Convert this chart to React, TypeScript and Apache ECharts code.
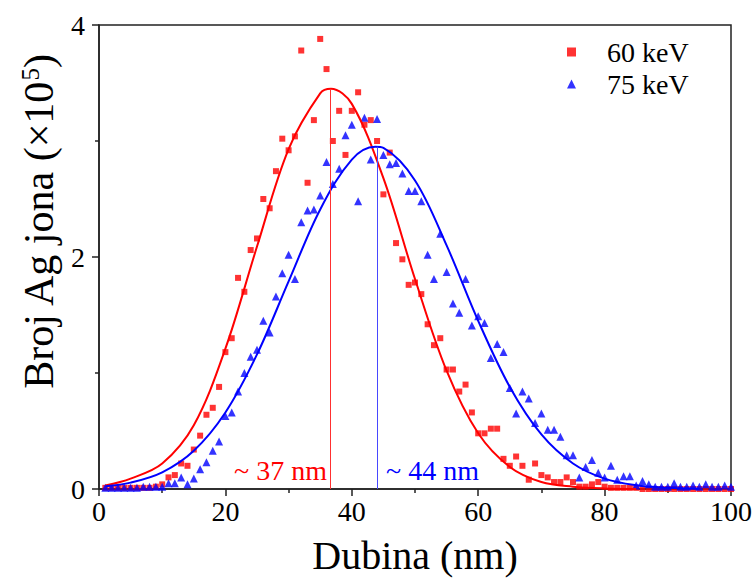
import React, { useEffect, useRef } from "react";
import * as echarts from "echarts";

const FONT = "Liberation Serif";

const depth = [
  1, 2, 3, 4, 5, 6, 7, 8, 9, 10, 11, 12, 13, 14, 15, 16, 17, 18, 19, 20,
  21, 22, 23, 24, 25, 26, 27, 28, 29, 30, 31, 32, 33, 34, 35, 36, 37, 38, 39, 40,
  41, 42, 43, 44, 45, 46, 47, 48, 49, 50, 51, 52, 53, 54, 55, 56, 57, 58, 59, 60,
  61, 62, 63, 64, 65, 66, 67, 68, 69, 70, 71, 72, 73, 74, 75, 76, 77, 78, 79, 80,
  81, 82, 83, 84, 85, 86, 87, 88, 89, 90, 91, 92, 93, 94, 95, 96, 97, 98, 99, 100,
];

const kev60 = [
  0.01, 0.01, 0.01, 0.01, 0.01, 0.01, 0.01, 0.01, 0.02, 0.04,
  0.10, 0.12, 0.22, 0.20, 0.34, 0.46, 0.64, 0.70, 0.88, 1.18,
  1.30, 1.82, 1.70, 2.06, 2.16, 2.50, 2.42, 2.74, 3.02, 2.92,
  3.04, 3.78, 2.64, 3.18, 3.88, 3.62, 3.00, 3.26, 2.88, 3.26,
  3.42, 3.14, 3.18, 3.00, 2.54, 2.90, 2.12, 1.98, 1.76, 1.78,
  1.68, 1.42, 1.24, 1.30, 1.03, 1.03, 0.84, 0.90, 0.66, 0.48,
  0.48, 0.52, 0.52, 0.26, 0.20, 0.28, 0.20, 0.08, 0.22, 0.12,
  0.10, 0.06, 0.06, 0.10, 0.06, 0.02, 0.02, 0.04, 0.06, 0.02,
  0.01, 0.01, 0.01, 0.01, 0.01, 0, 0, 0, 0, 0,
  0, 0, 0, 0, 0, 0, 0, 0, 0, 0,
];

const kev75 = [
  0.01, 0.01, 0.01, 0.01, 0.01, 0.01, 0.02, 0.02, 0.02, 0.02,
  0.05, 0.05, 0.10, 0.04, 0.09, 0.17, 0.23, 0.33, 0.41, 0.63,
  0.66, 0.84, 1.00, 1.14, 1.20, 1.45, 1.35, 1.66, 1.86, 2.02,
  1.81, 2.30, 2.40, 2.41, 2.53, 2.82, 2.63, 2.76, 3.05, 3.14,
  2.48, 3.20, 2.84, 3.19, 2.88, 2.80, 2.81, 2.72, 2.57, 2.57,
  2.48, 2.02, 1.81, 2.20, 1.87, 1.60, 1.52, 1.81, 1.41, 1.49,
  1.43, 1.13, 1.25, 1.18, 0.87, 0.65, 0.84, 0.78, 0.57, 0.65,
  0.51, 0.51, 0.45, 0.29, 0.29, 0.10, 0.19, 0.25, 0.14, 0.10,
  0.20, 0.08, 0.11, 0.11, 0.03, 0.07, 0.04, 0.02, 0.02, 0.02,
  0.05, 0.02, 0.02, 0.03, 0.02, 0.04, 0.02, 0.02, 0.03, 0.02,
];

const fit60X = [1, 5, 10, 15, 20, 25, 30, 35, 36.7, 40, 45, 50, 55, 60, 65, 70, 75, 80, 85];
const fit60Y = [0.03, 0.09, 0.22, 0.55, 1.21, 2.09, 2.93, 3.41, 3.45, 3.32, 2.68, 1.81, 1.02, 0.48, 0.19, 0.06, 0.02, 0.005, 0.001];

const fit75X = [1, 5, 10, 15, 20, 25, 30, 35, 40, 43.7, 45, 50, 55, 60, 65, 70, 75, 80, 85, 90, 95];
const fit75Y = [0.023, 0.055, 0.144, 0.33, 0.66, 1.16, 1.79, 2.41, 2.84, 2.95, 2.94, 2.66, 2.10, 1.45, 0.88, 0.47, 0.22, 0.089, 0.032, 0.01, 0.003];

const peak60 = [36.6, 3.45];
const peak75 = [44.0, 2.95];

const seriesNames = ["60 keV", "75 keV"];
const peakLabels = ["~ 37 nm", "~ 44 nm"];

const RED = "#ff0000";
const BLUE = "#0000ff";
const AXIS = "#222222";

const zip = (xs: number[], ys: number[]) => xs.map((x, i) => [x, ys[i]]);

export default function App() {
  const ref = useRef<HTMLDivElement>(null);

  useEffect(() => {
    document.body.style.margin = "0";
    if (!ref.current) return;
    const chart = echarts.init(ref.current, null, { renderer: "svg" });

    const axisCommon = {
      axisLine: { show: true, onZero: false, lineStyle: { color: AXIS, width: 1.5 } },
      axisTick: { show: true, inside: false, length: 7, lineStyle: { color: AXIS, width: 1.5 } },
      minorTick: { show: true, splitNumber: 2, length: 4, lineStyle: { color: AXIS, width: 1.5 } },
      splitLine: { show: false },
      minorSplitLine: { show: false },
    };

    chart.setOption({
      animation: false,
      backgroundColor: "#ffffff",
      textStyle: { fontFamily: FONT },
      grid: {
        left: 99,
        top: 25,
        width: 632,
        height: 464,
        show: true,
        borderColor: AXIS,
        borderWidth: 1.5,
        backgroundColor: "transparent",
      },
      legend: {
        orient: "vertical",
        left: 562,
        top: 33,
        itemWidth: 9,
        itemHeight: 9,
        itemGap: 4,
        data: seriesNames,
        textStyle: { fontSize: 28, color: "#000", fontFamily: FONT, padding: [0, 0, 0, 26] },
      },
      xAxis: {
        type: "value",
        min: 0,
        max: 100,
        interval: 20,
        ...axisCommon,
        axisLabel: { fontSize: 28, color: "#000", fontFamily: FONT, margin: 8 },
        name: "Dubina (nm)",
        nameLocation: "middle",
        nameGap: 46,
        nameTextStyle: { fontSize: 40, color: "#000", fontFamily: FONT },
      },
      yAxis: {
        type: "value",
        min: 0,
        max: 4,
        interval: 2,
        ...axisCommon,
        axisLabel: { fontSize: 28, color: "#000", fontFamily: FONT, margin: 14 },
        name: "{n|Broj Ag jona (×10}{s|5}{n|)}",
        nameLocation: "middle",
        nameGap: 34,
        nameTextStyle: {
          fontSize: 42,
          color: "#000",
          fontFamily: FONT,
          padding: [0, 0, 0, 70],
          rich: {
            n: { fontSize: 42, color: "#000", fontFamily: FONT },
            s: { fontSize: 25, color: "#000", fontFamily: FONT, verticalAlign: "top" },
          },
        },
      },
      series: [
        {
          name: seriesNames[0],
          type: "scatter",
          symbol: "rect",
          symbolSize: 6,
          itemStyle: { color: RED },
          data: zip(depth, kev60),
          z: 2,
        },
        {
          name: seriesNames[1],
          type: "scatter",
          symbol: "triangle",
          symbolSize: 8,
          itemStyle: { color: BLUE },
          data: zip(depth, kev75),
          z: 2,
        },
        {
          name: "fit60",
          type: "line",
          smooth: 0.35,
          showSymbol: false,
          symbol: "none",
          lineStyle: { color: RED, width: 2 },
          data: zip(fit60X, fit60Y),
          z: 3,
          markLine: {
            silent: true,
            symbol: "none",
            label: { show: false },
            lineStyle: { color: "#ff3030", width: 1, type: "solid" },
            data: [[{ coord: [peak60[0], 0] }, { coord: [peak60[0], peak60[1]] }]],
          },
        },
        {
          name: "fit75",
          type: "line",
          smooth: 0.35,
          showSymbol: false,
          symbol: "none",
          lineStyle: { color: BLUE, width: 2 },
          data: zip(fit75X, fit75Y),
          z: 3,
          markLine: {
            silent: true,
            symbol: "none",
            label: { show: false },
            lineStyle: { color: "#4848ff", width: 1, type: "solid" },
            data: [[{ coord: [peak75[0], 0] }, { coord: [peak75[0], peak75[1]] }]],
          },
        },
      ],
      graphic: [
        {
          type: "text",
          x: 327,
          y: 470,
          style: {
            text: peakLabels[0],
            fill: RED,
            fontSize: 28,
            fontFamily: FONT,
            align: "right",
            verticalAlign: "middle",
          },
        },
        {
          type: "text",
          x: 386,
          y: 470,
          style: {
            text: peakLabels[1],
            fill: BLUE,
            fontSize: 28,
            fontFamily: FONT,
            align: "left",
            verticalAlign: "middle",
          },
        },
      ],
    });

    return () => chart.dispose();
  }, []);

  return <div ref={ref} style={{ width: 755, height: 582 }} />;
}
